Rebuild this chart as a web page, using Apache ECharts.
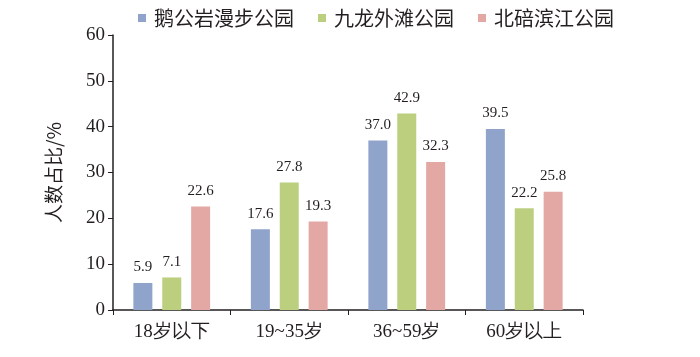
<!DOCTYPE html>
<html><head><meta charset="utf-8">
<script src="https://cdn.jsdelivr.net/npm/echarts@6/dist/echarts.min.js"></script>
<style>html,body{margin:0;padding:0;background:#fff}#c{width:700px;height:357px}</style>
</head><body><div id="c"></div>
<script>
const categories = ['18岁以下', '19~35岁', '36~59岁', '60岁以上'];
const seriesNames = ['鹅公岩漫步公园', '九龙外滩公园', '北碚滨江公园'];
const eGongYan = [5.9, 17.6, 37.0, 39.5];
const jiuLong = [7.1, 27.8, 42.9, 22.2];
const beiBei = [22.6, 19.3, 32.3, 25.8];
const yTicks = [0, 10, 20, 30, 40, 50, 60];
const colors = ['#8FA3CB', '#BBCF7F', '#E4A8A4'];
const dataSets = [eGongYan, jiuLong, beiBei];

const chart = echarts.init(document.getElementById('c'));
const serif = '"Liberation Serif", "Times New Roman", serif';
const sans = '"Noto Sans CJK SC", sans-serif';
chart.setOption({
  animation: false,
  legend: {
    top: 3, left: 133,
    itemWidth: 8, itemHeight: 8, itemGap: 24,
    icon: 'rect',
    textStyle: { fontFamily: sans, fontSize: 20, color: '#231f20', padding: [0,0,0,3] },
    data: seriesNames
  },
  grid: { left: 113, right: 117, top: 35, bottom: 47 },
  xAxis: {
    type: 'category', data: categories,
    axisLine: { lineStyle: { color: '#231f20', width: 1.5 } },
    axisTick: { show: true, inside: false, length: 5, alignWithLabel: false, lineStyle: { color: '#231f20' } },
    axisLabel: { fontFamily: serif, fontSize: 19, color: '#231f20', margin: 13 }
  },
  yAxis: {
    type: 'value', min: 0, max: 60, interval: 10,
    name: '人数占比/%', nameLocation: 'middle', nameGap: 50, nameRotate: 90,
    nameTextStyle: { fontFamily: sans, fontSize: 19, color: '#231f20' },
    axisLine: { show: true, lineStyle: { color: '#231f20', width: 1.5 } },
    axisTick: { show: true, length: 5, lineStyle: { color: '#231f20' } },
    splitLine: { show: false },
    axisLabel: { fontFamily: serif, fontSize: 19, color: '#231f20', margin: 8,
      formatter: v => yTicks.includes(v) ? String(v) : '' }
  },
  series: seriesNames.map((n, i) => ({
    name: n, type: 'bar', data: dataSets[i],
    barWidth: 19, barGap: '52%',
    itemStyle: { color: colors[i] },
    label: { show: true, position: 'top', distance: 8, fontFamily: serif, fontSize: 15, color: '#231f20',
      formatter: p => p.value.toFixed(1) }
  }))
});
</script></body></html>
